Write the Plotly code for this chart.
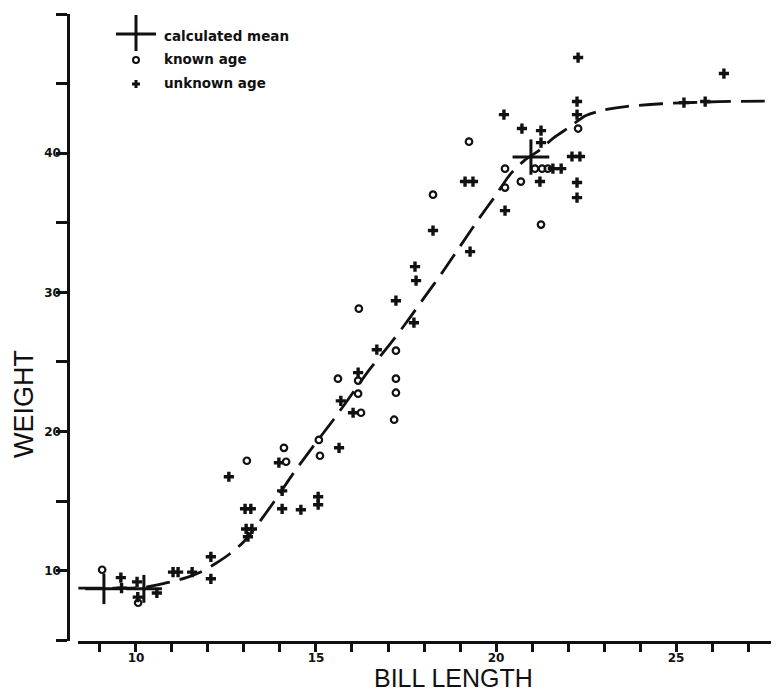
import plotly.graph_objects as go

# ---------------- data ----------------
known_x = [9.06, 10.06, 13.08, 14.11, 14.17, 15.08, 15.11, 16.25, 15.61, 16.17, 16.17,
           16.19, 17.22, 17.22, 17.22, 17.17, 18.25, 19.25, 20.25, 20.25, 20.69, 21.25,
           22.28, 21.08, 21.28, 21.44]
known_y = [10.07, 7.7, 17.9, 18.83, 17.83, 19.4, 18.26, 21.35, 23.8, 23.66, 22.72,
           28.83, 25.81, 23.8, 22.79, 20.85, 37.02, 40.83, 38.89, 37.53, 37.96, 34.87,
           41.77, 38.89, 38.89, 38.89]

unknown_x = [9.58, 9.6, 10.03, 10.05, 10.58, 11.03, 11.17, 11.56, 12.08, 12.08,
             12.58, 13.03, 13.19, 13.06, 13.22, 13.11, 13.97, 14.06, 14.06, 14.58,
             15.06, 15.06, 15.64, 15.69, 16.03, 16.17, 16.69, 17.22, 17.72, 17.75,
             17.78, 18.25, 19.28, 19.14, 19.36, 20.22, 20.25, 20.72, 21.25, 21.25,
             21.22, 21.58, 21.81, 22.11, 22.33, 22.25, 22.25, 22.25, 22.25, 22.28,
             25.22, 25.81, 26.33]
unknown_y = [9.5, 8.75, 9.2, 8.1, 8.4, 9.9, 9.9, 9.9, 11.0, 9.42,
             16.75, 14.45, 14.45, 13.0, 13.0, 12.44, 17.76, 15.74, 14.45, 14.38,
             15.31, 14.74, 18.83, 22.2, 21.35, 24.23, 25.88, 29.4, 27.82, 31.85,
             30.84, 34.44, 32.93, 37.96, 37.96, 42.77, 35.87, 41.77, 41.62, 40.76,
             37.96, 38.89, 38.89, 39.76, 39.76, 43.71, 42.77, 37.89, 36.81, 46.87,
             43.63, 43.71, 45.72]

mean_x = [9.11, 10.22, 20.97]
mean_y = [8.7, 8.7, 39.72]
mean_dx = [0.52, 0.5, 0.51]
mean_dy = [1.1, 1.0, 1.27]

curve_x = [8.4, 9.5, 10.2, 10.8, 11.4, 11.8, 12.2, 12.6, 13.0, 13.4, 13.9, 14.4,
           15.0, 15.5, 16.0, 16.5, 17.0, 17.5, 18.0, 18.5, 19.0, 19.5, 20.0, 20.4,
           20.8, 21.2, 21.6, 22.0, 22.5, 23.0, 23.6, 24.6, 26.2, 27.85]
curve_y = [8.75, 8.75, 8.8, 9.1, 9.5, 9.9, 10.5, 11.2, 12.1, 13.4, 15.2, 17.1,
           19.2, 20.9, 22.7, 24.5, 26.1, 27.8, 29.6, 31.4, 33.3, 35.2, 37.0, 38.5,
           39.5, 40.2, 41.1, 41.8, 42.7, 43.1, 43.35, 43.55, 43.7, 43.75]

x_ticks = list(range(9, 28))
x_labels = {10: "10", 15: "15", 20: "20", 25: "25"}
y_ticks = list(range(5, 51, 5))
y_labels = {10: "10", 20: "20", 30: "30", 40: "40", 50: "50"}

INK = "#111111"

fig = go.Figure()

fig.add_trace(go.Scatter(
    x=curve_x, y=curve_y, mode="lines",
    line=dict(color=INK, width=2.8, dash="24px,10px", shape="spline", smoothing=0.8),
    hoverinfo="skip", showlegend=False))

fig.add_trace(go.Scatter(
    x=mean_x, y=mean_y, mode="markers",
    marker=dict(size=2, color=INK),
    error_x=dict(type="data", array=mean_dx, width=0, thickness=3, color=INK),
    error_y=dict(type="data", array=mean_dy, width=0, thickness=3, color=INK),
    name="calculated mean", showlegend=False))

fig.add_trace(go.Scatter(
    x=known_x, y=known_y, mode="markers",
    marker=dict(symbol="circle-open", size=6.5, color=INK, line=dict(width=2.2, color=INK)),
    name="known age", showlegend=False))

fig.add_trace(go.Scatter(
    x=unknown_x, y=unknown_y, mode="markers",
    marker=dict(symbol="cross", size=8.5, color=INK, line=dict(width=0)),
    name="unknown age", showlegend=False))

# ---------------- layout ----------------
OFF = 8                     # page body margin of the browser
W, H = 779 - OFF, 694 - OFF
ML, MR, MT, MB = 60, 0, 6, 53
PW, PH = W - ML - MR, H - MT - MB


def px_x(p):
    return (p - OFF - ML) / PW


def px_y(p):
    return (OFF + H - MB - p) / PH


tick_font = dict(family="DejaVu Sans", size=12, color=INK, weight="bold")

fig.update_layout(
    width=W, height=H,
    margin=dict(l=ML, r=MR, t=MT, b=MB, pad=0),
    paper_bgcolor="white", plot_bgcolor="white",
    showlegend=False,
    xaxis=dict(
        domain=[10 / PW, 1], range=[8.39, 27.86],
        showline=True, linewidth=2.5, linecolor=INK,
        ticks="outside", ticklen=8, tickwidth=2.5, tickcolor=INK,
        ticklabelstandoff=-4,
        tickmode="array", tickvals=x_ticks,
        ticktext=[x_labels.get(v, "") for v in x_ticks],
        tickfont=tick_font, showgrid=False, zeroline=False),
    yaxis=dict(
        domain=[0, 1], range=[4.95, 50], anchor="free", position=0,
        showline=True, linewidth=2.5, linecolor=INK,
        ticks="outside", ticklen=11, tickwidth=2.5, tickcolor=INK,
        ticklabelstandoff=-7,
        tickmode="array", tickvals=y_ticks,
        ticktext=[y_labels.get(v, "") for v in y_ticks],
        tickfont=tick_font, showgrid=False, zeroline=False),
)

# axis titles
fig.add_annotation(text="BILL LENGTH", xref="paper", yref="paper",
                   x=px_x(454), y=px_y(678), xanchor="center", yanchor="middle",
                   height=28, valign="middle",
                   showarrow=False, font=dict(family="Liberation Sans", size=25, color=INK))
fig.add_annotation(text="WEIGHT", xref="paper", yref="paper",
                   x=px_x(24), y=px_y(404), xanchor="center", yanchor="middle",
                   textangle=-90, showarrow=False,
                   font=dict(family="Liberation Sans", size=27, color=INK))

# ---------------- manual legend ----------------
lx = px_x(136)
fig.add_shape(type="line", xref="paper", yref="paper", xsizemode="pixel", ysizemode="pixel",
              xanchor=lx, yanchor=px_y(34), x0=-20, x1=20, y0=0, y1=0,
              line=dict(color=INK, width=3))
fig.add_shape(type="line", xref="paper", yref="paper", xsizemode="pixel", ysizemode="pixel",
              xanchor=lx, yanchor=px_y(33), x0=0, x1=0, y0=-18, y1=18,
              line=dict(color=INK, width=3))
fig.add_shape(type="circle", xref="paper", yref="paper", xsizemode="pixel", ysizemode="pixel",
              xanchor=lx, yanchor=px_y(60), x0=-3, x1=3, y0=-3, y1=3,
              line=dict(color=INK, width=2))
fig.add_shape(type="line", xref="paper", yref="paper", xsizemode="pixel", ysizemode="pixel",
              xanchor=lx, yanchor=px_y(84), x0=-4, x1=4, y0=0, y1=0,
              line=dict(color=INK, width=3))
fig.add_shape(type="line", xref="paper", yref="paper", xsizemode="pixel", ysizemode="pixel",
              xanchor=lx, yanchor=px_y(84), x0=0, x1=0, y0=-4, y1=4,
              line=dict(color=INK, width=3))

legend_font = dict(family="DejaVu Sans", size=13.5, color=INK, weight="bold")
for label, py in [("calculated mean", 36), ("known age", 59), ("unknown age", 83)]:
    fig.add_annotation(text=label, xref="paper", yref="paper",
                       x=px_x(162), y=px_y(py), xanchor="left", yanchor="middle",
                       showarrow=False, font=legend_font)

fig.write_html("out.html")
